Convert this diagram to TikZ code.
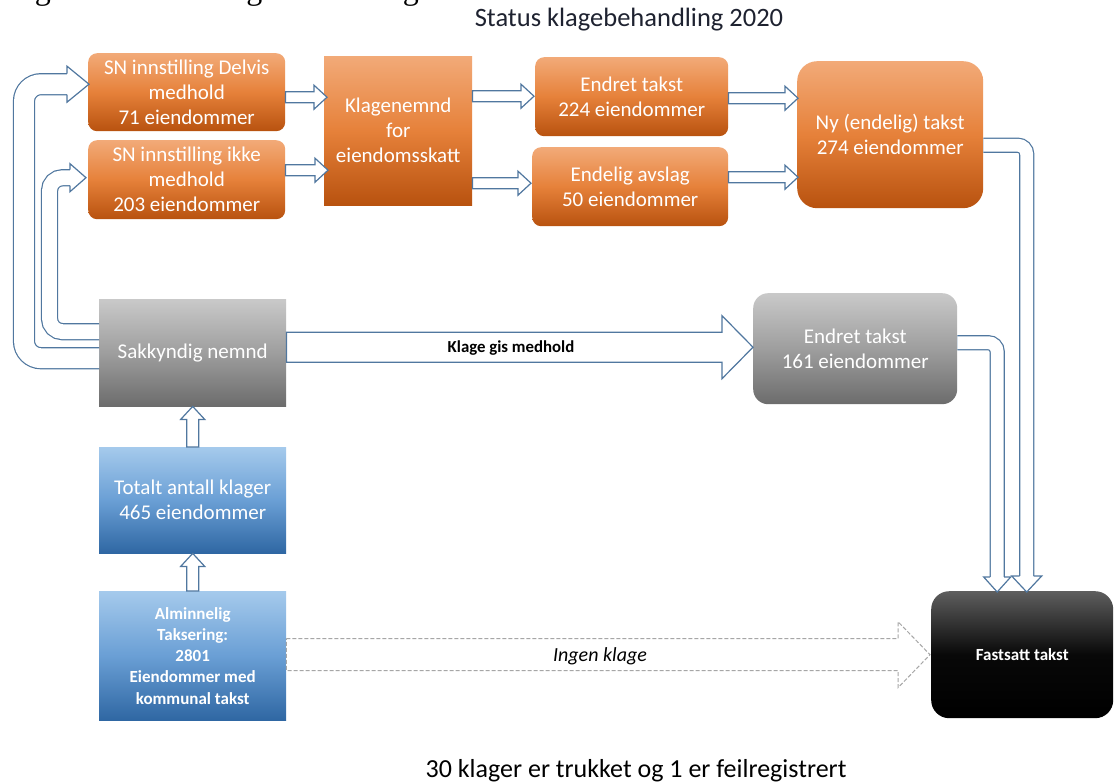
\documentclass[tikz,border=0pt]{standalone}
\usepackage{fontspec}
\setmainfont{Carlito}
\newfontfamily\captionserif{Liberation Serif}
\usetikzlibrary{calc}

\definecolor{orTop}{HTML}{F2AA78}
\definecolor{orMid}{HTML}{E6813A}
\definecolor{orBot}{HTML}{B8520F}
\definecolor{grTop}{HTML}{C9C9C9}
\definecolor{grMid}{HTML}{9E9E9E}
\definecolor{grBot}{HTML}{6C6C6C}
\definecolor{blTop}{HTML}{A5CAEC}
\definecolor{blMid}{HTML}{6A9FD5}
\definecolor{blBot}{HTML}{2F67A3}
\definecolor{bkTop}{HTML}{5E5E5E}
\definecolor{bkMid}{HTML}{080808}
\definecolor{arrowC}{HTML}{50779F}
\definecolor{dashC}{HTML}{A6A6A6}
\definecolor{titleC}{HTML}{1E2230}

% straight block arrow pointing right: [opts]{from}{tip}{shaft half}{head half}{head length}
\newcommand\arrowR[6][]{%
  \filldraw[blockarrow,#1] let \p1=#2, \p2=#3 in
    (\x1,\y1+#4) -- (\x2-#6,\y1+#4) -- (\x2-#6,\y1+#5) -- (\x2,\y1)
    -- (\x2-#6,\y1-#5) -- (\x2-#6,\y1-#4) -- (\x1,\y1-#4) -- cycle;}
% straight block arrow pointing up
\newcommand\arrowU[6][]{%
  \filldraw[blockarrow,#1] let \p1=#2, \p2=#3 in
    (\x1-#4,\y1) -- (\x1-#4,\y2-#6) -- (\x1-#5,\y2-#6) -- (\x1,\y2)
    -- (\x1+#5,\y2-#6) -- (\x1+#4,\y2-#6) -- (\x1+#4,\y1) -- cycle;}
% open arrow heads for bent shafts: [opts]{tip}{shaft half}{head half}{head length}
\newcommand\headR[5][]{%
  \filldraw[blockarrow,#1] let \p1=#2 in
    (\x1-#5,\y1+#3) -- (\x1-#5,\y1+#4) -- (\x1,\y1) -- (\x1-#5,\y1-#4) -- (\x1-#5,\y1-#3);}
\newcommand\headD[5][]{%
  \filldraw[blockarrow,#1] let \p1=#2 in
    (\x1-#3,\y1+#5) -- (\x1-#4,\y1+#5) -- (\x1,\y1) -- (\x1+#4,\y1+#5) -- (\x1+#3,\y1+#5);}

\tikzset{
  box/.style={inner sep=0pt, align=center, text=white, anchor=north west,
    font=\fontsize{21}{25}\selectfont},
  orangefill/.style={top color=orTop, bottom color=orBot, middle color=orMid},
  grayfill/.style={top color=grTop, bottom color=grBot, middle color=grMid},
  bluefill/.style={top color=blTop, bottom color=blBot, middle color=blMid},
  blackfill/.style={top color=bkTop, bottom color=black, middle color=bkMid},
  blockarrow/.style={draw=arrowC, line width=1.2pt, fill=white, line join=miter},
  shaft/.style={draw=arrowC, line width=1.2pt, double=white},
  ghostarrow/.style={draw=dashC, line width=1pt, dash pattern=on 4pt off 2pt},
}

\begin{document}
\begin{tikzpicture}[x=1pt,y=-1pt]
\useasboundingbox (0,0) rectangle (1114,784);
\fill[white] (0,0) rectangle (1114,784);

% caption line of the page, cut by the top edge
\begin{scope}
  \clip (0,0) rectangle (520,8);
  \node[anchor=base west, inner sep=0pt, font=\captionserif\fontsize{32}{32}\selectfont]
    (caption) at (8,-0.5) {Figur 1: Status klagebehandling 2020};
\end{scope}

\node[anchor=base, inner sep=0pt, text=titleC, font=\fontsize{26.5}{30}\selectfont]
  (title) at (629,27) {Status klagebehandling 2020};

% boxes
\node[box, orangefill, rounded corners=9pt, minimum width=197, minimum height=78]
  (A) at (88,53) {SN innstilling Delvis\\medhold\\71 eiendommer};
\node[box, orangefill, rounded corners=9pt, minimum width=197, minimum height=79]
  (B) at (88,140) {SN innstilling ikke\\medhold\\203 eiendommer};
\node[box, orangefill, minimum width=148, minimum height=149]
  (K) at (324,56) {Klagenemnd\\for\\eiendomsskatt};
\node[box, orangefill, rounded corners=9pt, minimum width=193, minimum height=79]
  (E1) at (535,57) {Endret takst\\224 eiendommer};
\node[box, orangefill, rounded corners=9pt, minimum width=196, minimum height=79]
  (E2) at (532,147) {Endelig avslag\\50 eiendommer};
\node[box, orangefill, rounded corners=20pt, minimum width=186, minimum height=147]
  (N) at (797,61) {Ny (endelig) takst\\274 eiendommer};
\node[box, grayfill, minimum width=187, minimum height=107]
  (S) at (99,299) {Sakkyndig nemnd};
\node[box, grayfill, rounded corners=15pt, minimum width=204, minimum height=111]
  (G) at (753,293) {Endret takst\\161 eiendommer};
\node[box, bluefill, minimum width=187, minimum height=106]
  (T) at (99,447) {Totalt antall klager\\465 eiendommer};
\node[box, bluefill, minimum width=187, minimum height=129,
      font=\bfseries\fontsize{17}{21.2}\selectfont]
  (A2) at (99,591) {Alminnelig\\Taksering:\\2801\\Eiendommer med\\kommunal takst};
\node[box, blackfill, rounded corners=18pt, minimum width=182, minimum height=127,
      font=\bfseries\fontsize{17}{20}\selectfont]
  (F) at (931,591) {Fastsatt takst};

% small arrows between the boxes
\arrowR{($(A.east)+(0,5)$)}{($(K.west)+(3,0)$)}{5.5pt}{12pt}{13pt}
\arrowR{($(B.east)+(0,-9.5)$)}{($(K.west)+(4,0)$)}{5.5pt}{12pt}{13pt}
\arrowR{($(K.east)+(0,-34.5)$)}{($(E1.west)+(-1,0)$)}{5.5pt}{12pt}{13pt}
\arrowR{($(K.east)+(0,52.5)$)}{($(E2.west)+(-1,0)$)}{5.5pt}{12pt}{13pt}
\arrowR{($(E1.east)+(0,1.5)$)}{($(N.west)+(1,0)$)}{5.5pt}{12pt}{13pt}
\arrowR{($(E2.east)+(0,-9.5)$)}{($(N.west)+(1,0)$)}{5.5pt}{12pt}{13pt}

% vertical arrows
\arrowU{(T.north)}{(S.south)}{6pt}{12pt}{13pt}
\arrowU{(A2.north)}{(T.south)}{6pt}{12pt}{13pt}

% wide arrow from Sakkyndig nemnd
\arrowR{($(S.east)+(0,-5.5)$)}{(G.west)}{15pt}{31.5pt}{31pt}
\node[font=\bfseries\fontsize{16.8}{20}\selectfont, text=black] (medhold) at (511,348) {Klage gis medhold};

% arrow for properties without complaint
\arrowR[ghostarrow]{($(A2.east)+(0,-1)$)}{($(F.west)+(-1,0)$)}{16pt}{33pt}{32pt}
\node[font=\itshape\fontsize{20}{24}\selectfont, text=black] (ingen) at (600,656) {Ingen klage};

% loops back up to the SN boxes
\draw[shaft, double distance=19.8pt, rounded corners=17pt]
  ($(S.west)+(0,5.5)$) -| ($(A.west)+(-64,-8)$) -- ($(A.west)+(-21,-8)$);
\headR{($(A.west)+(1,-8)$)}{10.5pt}{18pt}{22pt}
\draw[shaft, double distance=14.8pt, rounded corners=13pt]
  ($(S.west)+(0,-21)$) -| ($(B.west)+(-38.5,-2)$) -- ($(B.west)+(-18,-2)$);
\headR{($(B.west)+(-2,-2)$)}{8pt}{14pt}{16pt}

% bends down to Fastsatt takst
\draw[shaft, double distance=12.8pt, rounded corners=9pt]
  ($(N.east)+(0,10.5)$) -| ($(F.north)+(4.5,-15)$);
\headD{($(F.north)+(4.5,1)$)}{7pt}{15pt}{16pt}
\draw[shaft, double distance=12.8pt, rounded corners=9pt]
  ($(G.east)+(0,-6)$) -| ($(F.north)+(-25,-14)$);
\headD{($(F.north)+(-25,1)$)}{7pt}{13.5pt}{15pt}

\node[anchor=base, inner sep=0pt, text=black, font=\fontsize{26}{30}\selectfont]
  (note) at (636,777) {30 klager er trukket og 1 er feilregistrert};
\end{tikzpicture}
\end{document}
